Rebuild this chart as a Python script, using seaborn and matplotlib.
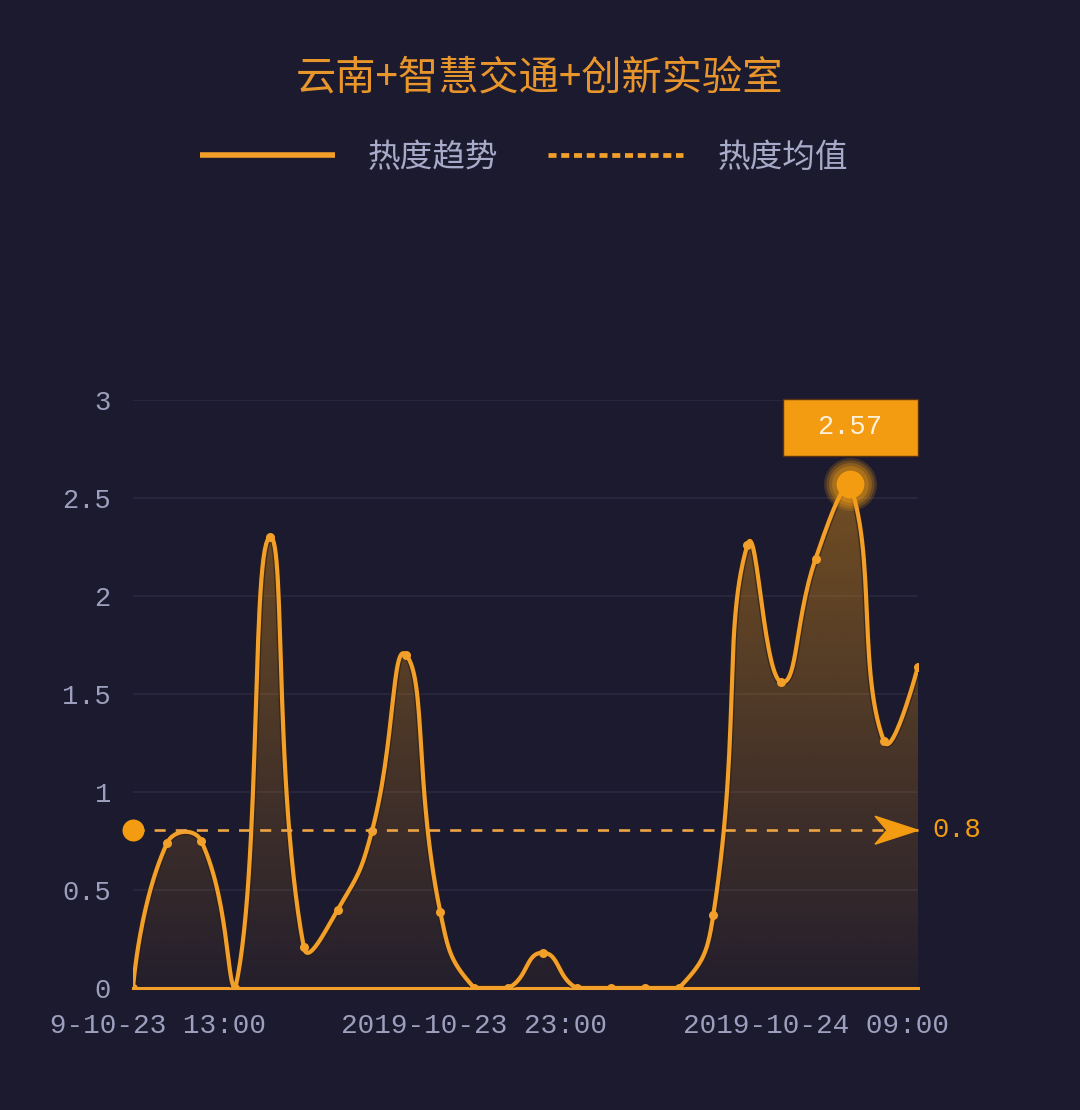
import matplotlib
matplotlib.use("Agg")
import matplotlib.pyplot as plt
import matplotlib.patheffects as pe
from matplotlib.colors import to_rgb
from matplotlib.lines import Line2D
from matplotlib.patches import Polygon, Rectangle
from matplotlib.transforms import Bbox
import numpy as np
import pandas as pd
import seaborn as sns

# categories (hourly) and values
hours = pd.date_range("2019-10-23 13:00", periods=24, freq="h")
hour_labels = [h.strftime("%Y-%m-%d %H:%M") for h in hours]
heat = [0, 0.74, 0.75, 0, 2.30, 0.21, 0.40, 0.80, 1.70, 0.39, 0, 0, 0.18,
        0, 0, 0, 0, 0.37, 2.26, 1.56, 2.19, 2.57, 1.26, 1.64]
tick_every = 10

title = "云南+智慧交通+创新实验室"
legend_names = ["热度趋势", "热度均值"]

bg = "#1c1a2e"
orange = "#f3a02a"
mark_orange = "#f39c12"
tick_col = "#9c9fbd"
legend_col = "#a7aac8"
grid_col = "#2b293f"

sns.set_theme(style="dark", rc={"figure.facecolor": bg, "axes.facecolor": bg,
                                "savefig.facecolor": bg})
plt.rcParams["font.family"] = ["Noto Sans CJK SC", "DejaVu Sans"]
mono = "Liberation Mono"


def echarts_smooth(px, py, smooth=0.5, n=30):
    # same bezier control points as echarts smooth line (with bbox constraint)
    pts = np.column_stack([px, py]).astype(float)
    lo, hi = pts.min(0), pts.max(0)
    out = [pts[0]]
    cp0 = pts[0].copy()
    t = np.linspace(0, 1, n)[1:, None]
    for i in range(1, len(pts)):
        p = pts[i]
        v = None
        if i == len(pts) - 1:
            cp1 = p.copy()
        else:
            v = pts[i + 1] - pts[i - 1]
            d0 = np.hypot(*(p - pts[i - 1]))
            d1 = np.hypot(*(pts[i + 1] - p))
            r = d1 / (d0 + d1)
            cp1 = p - v * smooth * (1 - r)
        c0 = np.clip(cp0, lo, hi)
        c1 = np.clip(cp1, lo, hi)
        seg = ((1 - t) ** 3 * pts[i - 1] + 3 * (1 - t) ** 2 * t * c0
               + 3 * (1 - t) * t ** 2 * c1 + t ** 3 * p)
        out.extend(seg)
        if v is not None:
            cp0 = p + v * smooth * r
    return np.array(out)


fig = plt.figure(figsize=(10.8, 11.1), dpi=100)
ax = fig.add_axes([133 / 1080, 1 - 988 / 1110, 785 / 1080, 588 / 1110])
ax.set_facecolor(bg)

x = np.arange(len(heat))
y = np.array(heat)
ymax = 3
sx = 785 / (len(heat) - 1)
sy = 588 / ymax
curve = echarts_smooth(x * sx, y * sy)
cx, cy = curve[:, 0] / sx, curve[:, 1] / sy
df = pd.DataFrame({"x": cx, "y": cy})

# gradient area under the curve
grad = np.linspace(0.04, 0.40, 256)
rgba = np.zeros((256, 1, 4))
rgba[..., :3] = to_rgb(mark_orange)
rgba[..., 3] = grad[:, None]
im = ax.imshow(rgba, extent=[0, x[-1], 0, y.max()], origin="lower",
               aspect="auto", zorder=1)
area = ax.fill_between(cx, cy, 0, color="none", lw=0)
im.set_clip_path(area.get_paths()[0], transform=ax.transData)

for gy in np.arange(0.5, 3.01, 0.5):
    ax.axhline(gy, color=grid_col, lw=1.2, zorder=0)

sns.lineplot(data=df, x="x", y="y", ax=ax, color=orange, lw=3.0, sort=False,
             estimator=None, zorder=4,
             path_effects=[pe.Stroke(linewidth=5.0, foreground="#2a1c14", alpha=0.6),
                           pe.Normal()])
sns.scatterplot(x=x, y=y, ax=ax, color=orange, s=42, linewidth=0, zorder=5)

ax.set_xlim(0, x[-1])
ax.set_ylim(0, ymax)
ax.set_xlabel("")
ax.set_ylabel("")
ax.set_yticks(np.arange(0, 3.01, 0.5))
ax.set_yticklabels(["0", "0.5", "1", "1.5", "2", "2.5", "3"])
ticks = x[::tick_every]
ax.set_xticks(ticks)
ax.set_xticklabels([hour_labels[i] for i in ticks])
ax.tick_params(axis="y", length=0, pad=16, labelsize=19.5, labelcolor=tick_col)
ax.tick_params(axis="x", length=0, pad=18, labelsize=20, labelcolor=tick_col)
for lab in ax.get_xticklabels() + ax.get_yticklabels():
    lab.set_family(mono)
# the chart container cuts off the start of the first date label
first = ax.get_xticklabels()[0]
first.set_clip_box(Bbox([[49, 0], [1080, 1110]]))
first.set_clip_on(True)
for s in ["top", "right", "left"]:
    ax.spines[s].set_visible(False)
ax.spines["bottom"].set_color(orange)
ax.spines["bottom"].set_linewidth(2.2)
ax.spines["bottom"].set_zorder(3)
ax.grid(False)

# average mark line
mean = y.mean()
ax.plot([0, x[-1]], [mean, mean], color="#eea444", lw=1.9, dashes=(4.2, 3.8),
        zorder=6, clip_on=False)
ax.scatter([0], [mean], s=250, color=mark_orange, zorder=7, clip_on=False, linewidth=0)
ex, ey = ax.transData.transform((x[-1], mean))
arrow = np.array([[0, 0], [-43, 14], [-31, 0], [-43, -14]]) + [ex, ey]
ax.add_patch(Polygon(arrow, closed=True, color=mark_orange, transform=None,
                     zorder=7, clip_on=False))
ax.annotate(f"{mean:.1f}", xy=(x[-1], mean), xytext=(14, 0), textcoords="offset pixels",
            ha="left", va="center", color=mark_orange, fontsize=19.5, family=mono)

# max mark point with glow and label box
imax = int(np.argmax(y))
for s, a in [(1450, 0.18), (1200, 0.22), (950, 0.26), (700, 0.3)]:
    ax.scatter([imax], [y[imax]], s=s, color=mark_orange, alpha=a, linewidth=0,
               zorder=8, clip_on=False)
ax.scatter([imax], [y[imax]], s=400, color=mark_orange, linewidth=0, zorder=9,
           clip_on=False)
mx, my = ax.transData.transform((imax, y[imax]))
ax.add_patch(Rectangle((mx - 67, my + 28), 135, 57, transform=None, facecolor=mark_orange,
                       edgecolor="#5a3310", lw=1, zorder=9, clip_on=False))
ax.text(mx, my + 57, f"{y[imax]:.2f}", transform=None, ha="center", va="center",
        color="#fdf1dc", fontsize=19.5, family=mono, zorder=10)

# title and legend
fig.text(539 / 1080, 1 - 78 / 1110, title, ha="center", va="center",
         color="#e8952c", fontsize=29)
fig.add_artist(Line2D([200 / 1080, 335 / 1080], [1 - 155 / 1110] * 2, color=orange,
                      lw=4.0, solid_capstyle="butt"))
fig.add_artist(Line2D([548 / 1080, 683 / 1080], [1 - 155 / 1110] * 2, color=orange,
                      lw=3.4, dashes=(1.7, 1.0), dash_capstyle="butt"))
fig.text(368 / 1080, 1 - 158 / 1110, legend_names[0], ha="left", va="center",
         color=legend_col, fontsize=23.5)
fig.text(718 / 1080, 1 - 158 / 1110, legend_names[1], ha="left", va="center",
         color=legend_col, fontsize=23.5)

fig.savefig("out.png", dpi=100, facecolor=bg)
